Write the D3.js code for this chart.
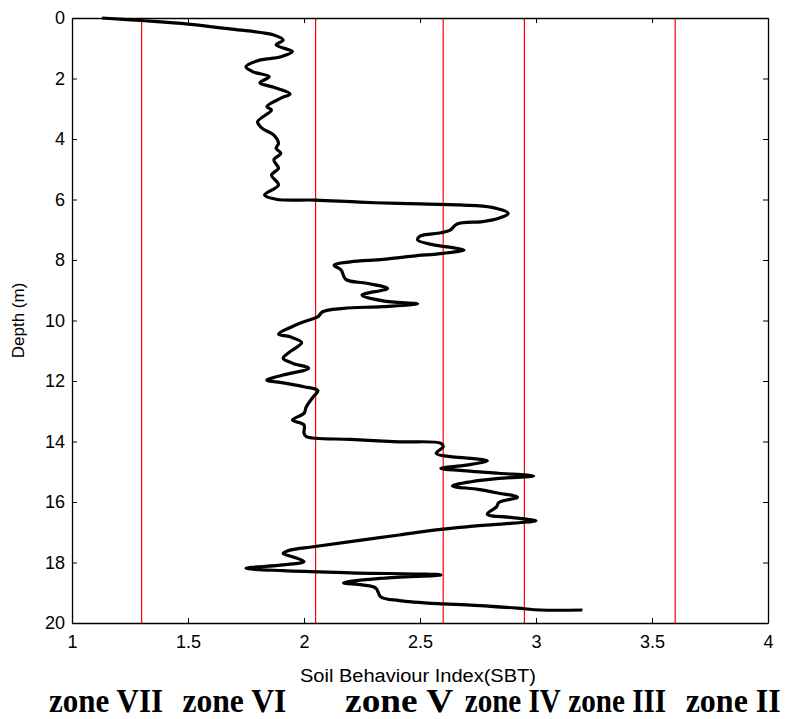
<!DOCTYPE html>
<html>
<head>
<meta charset="utf-8">
<script src="https://cdn.jsdelivr.net/npm/d3@7"></script>
<style>
  body { margin: 0; background: #fff; }
  .tick text { font-family: "Liberation Sans", Arial, sans-serif; }
</style>
</head>
<body>
<script>
// SBT profile: index value and depth (m)
var sbt = [1.13, 1.31, 1.50, 1.69, 1.87, 1.91, 1.88, 1.95, 1.90, 1.80, 1.75, 1.78, 1.85, 1.81, 1.87, 1.94,
  1.90, 1.84, 1.86, 1.80, 1.82, 1.87, 1.89, 1.88, 1.90, 1.87, 1.89, 1.86, 1.89, 1.83, 1.88, 2.05,
  2.24, 2.41, 2.67, 2.81, 2.88, 2.84, 2.77, 2.66, 2.63, 2.59, 2.50, 2.49, 2.56, 2.64, 2.69, 2.60,
  2.47, 2.34, 2.20, 2.13, 2.16, 2.18, 2.27, 2.36, 2.25, 2.34, 2.49, 2.34, 2.17, 2.08, 2.06, 2.00,
  1.95, 1.89, 1.94, 1.99, 1.94, 1.91, 1.95, 2.02, 1.91, 1.84, 1.91, 2.00, 2.06, 2.04, 2.01, 2.00,
  1.95, 2.00, 2.00, 2.01, 2.20, 2.41, 2.59, 2.60, 2.57, 2.63, 2.72, 2.79, 2.70, 2.59, 2.70, 2.84,
  2.99, 2.84, 2.72, 2.64, 2.75, 2.84, 2.92, 2.84, 2.83, 2.79, 2.89, 3.00, 2.90, 2.70, 2.56, 2.41,
  2.20, 2.04, 1.94, 1.91, 1.95, 2.00, 1.91, 1.75, 1.91, 2.20, 2.59, 2.34, 2.17, 2.25, 2.31, 2.33,
  2.41, 2.60, 2.70, 2.92, 3.02, 3.20];
var depth = [0.00, 0.09, 0.20, 0.37, 0.56, 0.73, 0.89, 1.11, 1.28, 1.41, 1.61, 1.78, 1.94, 2.14, 2.29, 2.51,
  2.65, 2.93, 3.04, 3.43, 3.65, 3.87, 4.14, 4.31, 4.47, 4.69, 4.97, 5.19, 5.52, 5.85, 5.99, 6.02,
  6.09, 6.13, 6.18, 6.26, 6.46, 6.62, 6.73, 6.81, 7.01, 7.10, 7.21, 7.34, 7.50, 7.59, 7.67, 7.78,
  7.87, 7.98, 8.06, 8.17, 8.33, 8.64, 8.77, 8.94, 9.16, 9.35, 9.45, 9.54, 9.60, 9.71, 9.87, 10.04,
  10.20, 10.45, 10.54, 10.73, 11.03, 11.25, 11.41, 11.58, 11.80, 11.97, 12.06, 12.19, 12.32, 12.52, 12.85, 13.07,
  13.29, 13.45, 13.73, 13.84, 13.93, 14.01, 14.06, 14.17, 14.39, 14.50, 14.56, 14.64, 14.78, 14.89, 14.97, 15.05,
  15.14, 15.22, 15.33, 15.47, 15.58, 15.71, 15.84, 16.02, 16.16, 16.40, 16.51, 16.62, 16.70, 16.82, 16.93, 17.09,
  17.31, 17.48, 17.59, 17.70, 17.81, 17.97, 18.08, 18.19, 18.27, 18.34, 18.41, 18.52, 18.67, 18.74, 18.85, 19.13,
  19.26, 19.37, 19.40, 19.51, 19.57, 19.57];

// zone boundaries (red lines)
var boundaries = [1.3, 2.05, 2.6, 2.95, 3.6];
// zone names under the axis
var zoneNames = ["zone VII", "zone VI", "zone V", "zone IV", "zone III", "zone II"];

var xTicks = [1, 1.5, 2, 2.5, 3, 3.5, 4];
var yTicks = [0, 2, 4, 6, 8, 10, 12, 14, 16, 18, 20];

drawChart();

function drawChart() {

  var width = 788, height = 719;
  var mLeft = 72, mTop = 18, mRight = 768, mBottom = 623;

  // where the zone names sit on the SBT scale, and how wide they are drawn
  var zoneAt = [1.147, 1.70, 2.41, 2.90, 3.35, 3.85];
  var zoneWidth = [114, 104, 108, 96, 98, 95];

  var svg = d3.select("body").append("svg")
    .attr("width", width)
    .attr("height", height);

  var x = d3.scaleLinear().domain([1, 4]).range([mLeft, mRight]);
  var y = d3.scaleLinear().domain([0, 20]).range([mTop, mBottom]);

  // red zone lines
  svg.selectAll(".zone-line")
    .data(boundaries)
    .enter().append("line")
    .attr("class", "zone-line")
    .attr("x1", d => x(d)).attr("x2", d => x(d))
    .attr("y1", mTop).attr("y2", mBottom)
    .attr("stroke", "#ff0000")
    .attr("stroke-width", 1.2);

  // profile
  var points = sbt.map((v, i) => [v, depth[i]]);
  var line = d3.line()
    .x(d => x(d[0]))
    .y(d => y(d[1]))
    .curve(d3.curveCatmullRom.alpha(0.5));

  svg.append("path")
    .datum(points)
    .attr("d", line)
    .attr("fill", "none")
    .attr("stroke", "#000")
    .attr("stroke-width", 3.2)
    .attr("stroke-linejoin", "round");

  // axes, ticks pointing inwards like matlab
  var fmt = d => String(d);
  var gx = svg.append("g").attr("transform", "translate(0," + mBottom + ")")
    .call(d3.axisBottom(x).tickValues(xTicks).tickFormat(fmt).tickSizeInner(-5).tickSizeOuter(0).tickPadding(12));
  var gxt = svg.append("g").attr("transform", "translate(0," + mTop + ")")
    .call(d3.axisTop(x).tickValues(xTicks).tickFormat("").tickSizeInner(-5).tickSizeOuter(0));
  var gy = svg.append("g").attr("transform", "translate(" + mLeft + ",0)")
    .call(d3.axisLeft(y).tickValues(yTicks).tickFormat(fmt).tickSizeInner(-5).tickSizeOuter(0).tickPadding(7));
  var gyr = svg.append("g").attr("transform", "translate(" + mRight + ",0)")
    .call(d3.axisRight(y).tickValues(yTicks).tickFormat("").tickSizeInner(-5).tickSizeOuter(0));

  [gx, gxt, gy, gyr].forEach(function(g) {
    g.select(".domain").attr("stroke", "#000").attr("stroke-width", 1.3);
    g.selectAll(".tick line").attr("stroke", "#000");
    g.selectAll(".tick text").attr("fill", "#000").style("font-size", "18px");
  });

  // axis titles
  svg.append("text")
    .attr("x", 418).attr("y", 682)
    .attr("text-anchor", "middle")
    .attr("textLength", 236)
    .attr("lengthAdjust", "spacingAndGlyphs")
    .style("font-family", "Liberation Sans, Arial, sans-serif")
    .style("font-size", "18px")
    .text("Soil Behaviour Index(SBT)");

  svg.append("text")
    .attr("transform", "translate(24," + ((mTop + mBottom) / 2) + ") rotate(-90)")
    .attr("text-anchor", "middle")
    .style("font-family", "Liberation Sans, Arial, sans-serif")
    .style("font-size", "17px")
    .text("Depth (m)");

  // zone names
  svg.selectAll(".zone-name")
    .data(zoneNames)
    .enter().append("text")
    .attr("class", "zone-name")
    .attr("x", (d, i) => x(zoneAt[i]))
    .attr("y", 712)
    .attr("text-anchor", "middle")
    .attr("textLength", (d, i) => zoneWidth[i])
    .attr("lengthAdjust", "spacingAndGlyphs")
    .style("font-family", "Liberation Serif, 'Times New Roman', serif")
    .style("font-weight", "bold")
    .style("font-size", "34px")
    .text(d => d);
}
</script>
</body>
</html>
